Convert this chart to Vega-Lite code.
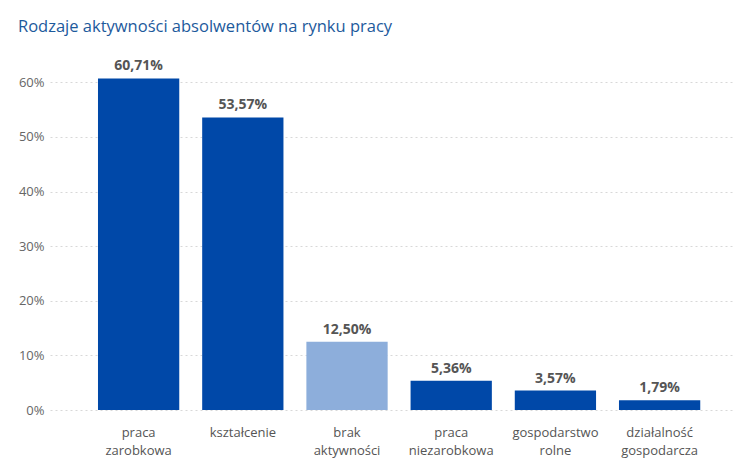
{
  "$schema": "https://vega.github.io/schema/vega-lite/v6.json",
  "autosize": "none",
  "width": 685,
  "height": 355,
  "padding": {"left": 50, "top": 55, "right": 7, "bottom": 52},
  "background": "white",
  "config": {
    "locale": {"number": {"decimal": ",", "thousands": " ", "grouping": [3], "currency": ["", " zł"]}},
    "font": "Open Sans",
    "view": {"stroke": null}
  },
  "title": {
    "text": "Rodzaje aktywności absolwentów na rynku pracy",
    "anchor": "start",
    "frame": "group",
    "dx": -32,
    "offset": 20,
    "fontSize": 16.5,
    "fontWeight": "normal",
    "color": "#1D5A9C",
    "font": "Open Sans"
  },
  "data": {
    "values": [
      {"kategoria": "praca zarobkowa", "udzial": 0.6071},
      {"kategoria": "kształcenie", "udzial": 0.5357},
      {"kategoria": "brak aktywności", "udzial": 0.125},
      {"kategoria": "praca niezarobkowa", "udzial": 0.0536},
      {"kategoria": "gospodarstwo rolne", "udzial": 0.0357},
      {"kategoria": "działalność gospodarcza", "udzial": 0.0179}
    ]
  },
  "encoding": {
    "x": {
      "field": "kategoria",
      "type": "nominal",
      "sort": null,
      "scale": {"paddingInner": 0.22, "paddingOuter": 0.397, "align": 0.58},
      "axis": {
        "title": null,
        "labelAngle": 0,
        "labelExpr": "split(datum.label, ' ')",
        "labelFontSize": 13,
        "labelColor": "#555555",
        "labelLineHeight": 18,
        "labelPadding": 16,
        "ticks": false,
        "domain": false,
        "labelLimit": 200
      }
    },
    "y": {
      "field": "udzial",
      "type": "quantitative",
      "scale": {"domain": [0, 0.65], "nice": false},
      "axis": {
        "title": null,
        "values": [0, 0.1, 0.2, 0.3, 0.4, 0.5, 0.6],
        "format": ".0%",
        "labelFontSize": 13,
        "labelColor": "#666666",
        "labelPadding": 6,
        "ticks": false,
        "domain": false,
        "gridColor": "#D8D8D8",
        "gridDash": [2, 3],
        "gridWidth": 1
      }
    }
  },
  "layer": [
    {
      "mark": {"type": "bar"},
      "encoding": {
        "color": {
          "condition": {"test": "datum.kategoria === 'brak aktywności'", "value": "#8DAEDB"},
          "value": "#0048A8"
        }
      }
    },
    {
      "mark": {"type": "text", "dy": -12, "fontSize": 14, "fontWeight": "bold", "color": "#555555"},
      "encoding": {
        "text": {"field": "udzial", "type": "quantitative", "format": ".2%"}
      }
    }
  ]
}
